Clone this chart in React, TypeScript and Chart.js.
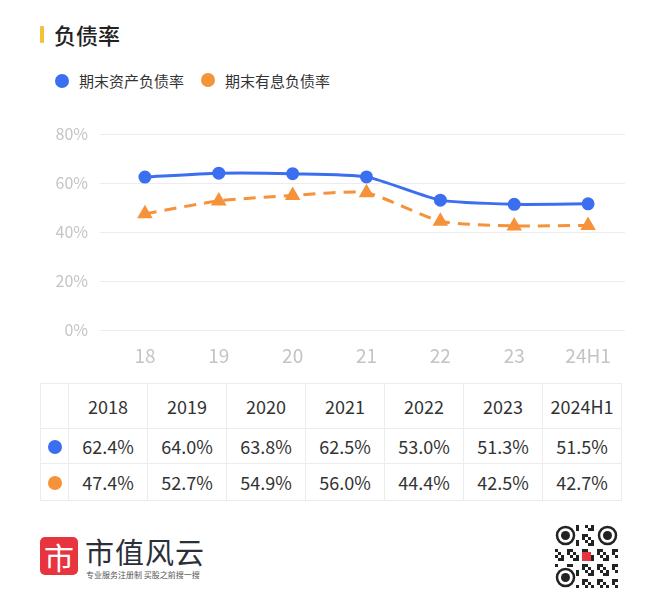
import { useEffect, useRef } from 'react';
import { Chart, registerables } from 'chart.js';

Chart.register(...registerables);

const categories = ['18', '19', '20', '21', '22', '23', '24H1'];
const years = ['2018', '2019', '2020', '2021', '2022', '2023', '2024H1'];
const assetRatio = [62.4, 64.0, 63.8, 62.5, 53.0, 51.3, 51.5];
const debtRatio = [47.4, 52.7, 54.9, 56.0, 44.4, 42.5, 42.7];
const yTicks = [0, 20, 40, 60, 80];

const BLUE = '#3b6ff0';
const ORANGE = '#f5923a';
const FONT = '"Noto Sans CJK SC", "Noto Sans", sans-serif';

function LineChart() {
  const canvasRef = useRef<HTMLCanvasElement>(null);
  const chartRef = useRef<Chart | null>(null);

  useEffect(() => {
    if (!canvasRef.current) return;
    if (chartRef.current) chartRef.current.destroy();

    chartRef.current = new Chart(canvasRef.current, {
      type: 'line',
      data: {
        labels: categories,
        datasets: [
          {
            label: '期末资产负债率',
            data: assetRatio,
            borderColor: BLUE,
            backgroundColor: BLUE,
            borderWidth: 3,
            pointRadius: 5,
            pointStyle: 'circle',
            tension: 0.2,
          },
          {
            label: '期末有息负债率',
            data: debtRatio,
            borderColor: ORANGE,
            backgroundColor: ORANGE,
            borderWidth: 3,
            borderDash: [12, 8],
            pointRadius: 6,
            pointStyle: 'triangle',
            tension: 0.2,
          },
        ],
      },
      options: {
        animation: false,
        responsive: false,
        maintainAspectRatio: false,
        layout: { padding: { top: 24, right: 15, bottom: 0, left: 0 } },
        plugins: { legend: { display: false }, tooltip: { enabled: false } },
        scales: {
          x: {
            offset: true,
            grid: { display: false },
            border: { display: false },
            ticks: { color: '#c4c4c4', font: { family: FONT, size: 19 }, padding: 6 },
            afterFit: (s: any) => { s.height = 45; },
          },
          y: {
            min: 0,
            max: 80,
            afterBuildTicks: (s: any) => { s.ticks = yTicks.map((v) => ({ value: v })); },
            grid: { color: '#ececec', lineWidth: 1 },
            border: { display: false },
            ticks: {
              color: '#c4c4c4',
              font: { family: FONT, size: 16 },
              padding: 12,
              callback: (v: any) => v + '%',
            },
            afterFit: (s: any) => { s.width = 68; },
          },
        },
      },
    });

    return () => {
      if (chartRef.current) chartRef.current.destroy();
    };
  }, []);

  return <canvas ref={canvasRef} width={600} height={265} style={{ width: 600, height: 265 }} />;
}

const dot = (c: string) => (
  <span style={{ display: 'inline-block', width: 14, height: 14, borderRadius: 7, background: c }} />
);

function QR() {
  const cells: JSX.Element[] = [];
  const n = 21;
  const s = 3;
  for (let r = 0; r < n; r++) {
    for (let c = 0; c < n; c++) {
      const finder = (r < 7 && c < 7) || (r < 7 && c >= n - 7) || (r >= n - 7 && c < 7);
      if (finder) continue;
      if (((r * 7 + c * 13 + r * c) % 5) < 2) cells.push(<rect key={r + '-' + c} x={c * s} y={r * s} width={s} height={s} fill="#222" />);
    }
  }
  const finderAt = (x: number, y: number) => (
    <g key={x + '_' + y}>
      <circle cx={x + 10.5} cy={y + 10.5} r={8.5} fill="none" stroke="#222" strokeWidth={2.5} />
      <circle cx={x + 10.5} cy={y + 10.5} r={4.5} fill="#222" />
    </g>
  );
  return (
    <svg width={63} height={63} viewBox="0 0 63 63">
      {cells}
      {finderAt(0, 0)}
      {finderAt(42, 0)}
      {finderAt(0, 42)}
      <rect x={27} y={27} width={9} height={9} fill="#e8343f" />
    </svg>
  );
}

export default function App() {
  const cell: React.CSSProperties = {
    border: '1px solid #ececec',
    textAlign: 'center',
    fontSize: 18,
    color: '#333',
    padding: 0,
  };
  return (
    <div style={{ position: 'relative', width: 660, height: 615, margin: -8, background: '#fff', fontFamily: FONT, overflow: 'hidden' }}>
      <div style={{ position: 'absolute', left: 40, top: 26, width: 4, height: 17, background: '#f7c137', borderRadius: 1 }} />
      <div style={{ position: 'absolute', left: 54, top: 18, fontSize: 22, fontWeight: 500, color: '#222' }}>负债率</div>

      <div style={{ position: 'absolute', left: 55, top: 70, display: 'flex', alignItems: 'center', fontSize: 15, color: '#333' }}>
        {dot(BLUE)}
        <span style={{ marginLeft: 10 }}>期末资产负债率</span>
        <span style={{ marginLeft: 17 }}>{dot(ORANGE)}</span>
        <span style={{ marginLeft: 10 }}>期末有息负债率</span>
      </div>

      <div style={{ position: 'absolute', left: 40, top: 110 }}>
        <LineChart />
      </div>

      <table style={{ position: 'absolute', left: 40, top: 383, width: 581, borderCollapse: 'collapse', tableLayout: 'fixed' }}>
        <colgroup>
          <col style={{ width: 28 }} />
          {years.map((y) => <col key={y} style={{ width: 79 }} />)}
        </colgroup>
        <tbody>
          <tr style={{ height: 45 }}>
            <td style={cell}></td>
            {years.map((y) => <td key={y} style={cell}>{y}</td>)}
          </tr>
          <tr style={{ height: 35 }}>
            <td style={cell}>{dot(BLUE)}</td>
            {assetRatio.map((v, i) => <td key={i} style={cell}>{v.toFixed(1)}%</td>)}
          </tr>
          <tr style={{ height: 37 }}>
            <td style={cell}>{dot(ORANGE)}</td>
            {debtRatio.map((v, i) => <td key={i} style={cell}>{v.toFixed(1)}%</td>)}
          </tr>
        </tbody>
      </table>

      <div style={{ position: 'absolute', left: 40, top: 537, width: 38, height: 38, background: '#e8343f', borderRadius: 5, color: '#fff', fontSize: 30, lineHeight: '38px', textAlign: 'center' }}>市</div>
      <div style={{ position: 'absolute', left: 85, top: 530, fontSize: 29, color: '#2b2f3a', letterSpacing: 1 }}>市值风云</div>
      <div style={{ position: 'absolute', left: 86, top: 569, fontSize: 8, color: '#555' }}>专业服务注册制 买股之前搜一搜</div>

      <div style={{ position: 'absolute', left: 555, top: 525 }}>
        <QR />
      </div>
    </div>
  );
}
